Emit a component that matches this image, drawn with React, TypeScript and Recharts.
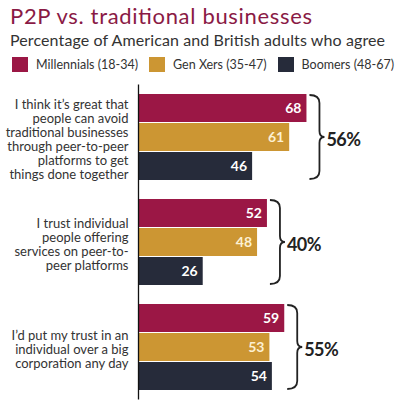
import React from 'react';
import { BarChart, Bar, XAxis, YAxis, LabelList, Legend } from 'recharts';

const FONT = 'Lato, "Open Sans", sans-serif';

const categories = [
  'I think it’s great that\npeople can avoid\ntraditional businesses\nthrough peer-to-peer\nplatforms to get\nthings done together',
  'I trust individual\npeople offering\nservices on peer-to-\npeer platforms',
  'I’d put my trust in an\nindividual over a big\ncorporation any day',
];
const millennials = [68, 52, 59];
const genXers = [61, 48, 53];
const boomers = [46, 26, 54];
const overall = [56, 40, 55];

const SERIES = [
  { key: 'millennials', name: 'Millennials (18-34)', color: '#9b1745', text: '#ffffff' },
  { key: 'genXers', name: 'Gen Xers (35-47)', color: '#cc9633', text: '#fcf0d2' },
  { key: 'boomers', name: 'Boomers (48-67)', color: '#262b3a', text: '#ffffff' },
];

const data = categories.map((category, i) => ({
  category,
  millennials: millennials[i],
  genXers: genXers[i],
  boomers: boomers[i],
  overall: overall[i],
}));

const BAR_GAP = 1;
const LEGEND_H = 16;

function CategoryTick({ x, y, payload }: any) {
  const lines = String(payload.value).split('\n');
  const lh = 14;
  const y0 = y - ((lines.length - 1) * lh) / 2 + 7;
  return (
    <text x={x} y={y0} textAnchor="end" fill="#333" fontSize={13} fontFamily={FONT}>
      {lines.map((line, i) => (
        <tspan key={i} x={x} dy={i === 0 ? 0 : lh}>{line}</tspan>
      ))}
    </text>
  );
}

// curly brace to the right of each group, with the overall share next to it
function Brace(props: any) {
  const { x, y, width, height, index } = props;
  const row = data[index];
  if (!row) return null;
  const perUnit = width / row.millennials;
  const peak = Math.max(row.millennials, row.genXers, row.boomers);
  const xb = x + peak * perUnit + 3;
  const y0 = y + 1;
  const y1 = y + height * 3 + BAR_GAP * 2 - 1;
  const ym = (y0 + y1) / 2;
  const xv = xb + 10;
  const d = `M${xb},${y0} Q${xv},${y0} ${xv},${y0 + 8} L${xv},${ym - 6} Q${xv},${ym} ${xb + 15},${ym} ` +
    `Q${xv},${ym} ${xv},${ym + 6} L${xv},${y1 - 8} Q${xv},${y1} ${xb},${y1}`;
  return (
    <g>
      <path d={d} fill="none" stroke="#222" strokeWidth={1.8} />
      <text x={xb + 17} y={ym + 2} dominantBaseline="central" fontSize={18} fontWeight={700}
        letterSpacing={-0.6} fill="#222" fontFamily={FONT}>
        {row.overall}%
      </text>
    </g>
  );
}

function LegendRow() {
  return (
    <div style={{ display: 'flex', height: LEGEND_H, alignItems: 'center', fontFamily: FONT, fontSize: 12.5, color: '#333', whiteSpace: 'nowrap' }}>
      {SERIES.map((s) => (
        <div key={s.key} style={{ display: 'flex', alignItems: 'center', marginRight: 11, flexShrink: 0 }}>
          <span style={{ width: 16, height: 15, background: s.color, marginRight: 8, display: 'inline-block', flexShrink: 0 }} />
          <span>{s.name}</span>
        </div>
      ))}
    </div>
  );
}

export default function App() {
  return (
    <div style={{ position: 'absolute', left: 0, top: 0, width: 397, height: 413, background: '#fff' }}>
      <svg width={397} height={52} style={{ position: 'absolute', left: 0, top: 0 }}>
        <text x={10} y={24} fontSize={22} fill="#8a1a45" fontFamily={FONT} textLength={302} lengthAdjust="spacing">
          P2P vs. traditional businesses
        </text>
        <text x={10} y={45.5} fontSize={16} fill="#333" fontFamily={FONT} textLength={375} lengthAdjust="spacing">
          Percentage of American and British adults who agree
        </text>
      </svg>
      <BarChart
        width={397}
        height={413}
        data={data}
        layout="vertical"
        barCategoryGap={9.5}
        barGap={BAR_GAP}
        margin={{ top: 84.5 - LEGEND_H, right: 11.5, bottom: 13.5, left: 0 }}
      >
        <Legend verticalAlign="top" content={() => <LegendRow />} wrapperStyle={{ top: 56, left: 12, width: 385 }} />
        <XAxis type="number" domain={[0, 100]} hide />
        <YAxis
          type="category"
          dataKey="category"
          width={138.5}
          tickLine={false}
          tickSize={0}
          tickMargin={10}
          axisLine={{ stroke: '#111', strokeWidth: 1.3 }}
          tick={<CategoryTick />}
          interval={0}
        />
        {SERIES.map((s) => (
          <Bar key={s.key} dataKey={s.key} name={s.name} fill={s.color} isAnimationActive={false}>
            <LabelList dataKey={s.key} position="insideRight" offset={5} fill={s.text} fontSize={14} fontWeight={700} fontFamily={FONT} />
            {s.key === 'millennials' && <LabelList dataKey="overall" content={<Brace />} />}
          </Bar>
        ))}
      </BarChart>
    </div>
  );
}
